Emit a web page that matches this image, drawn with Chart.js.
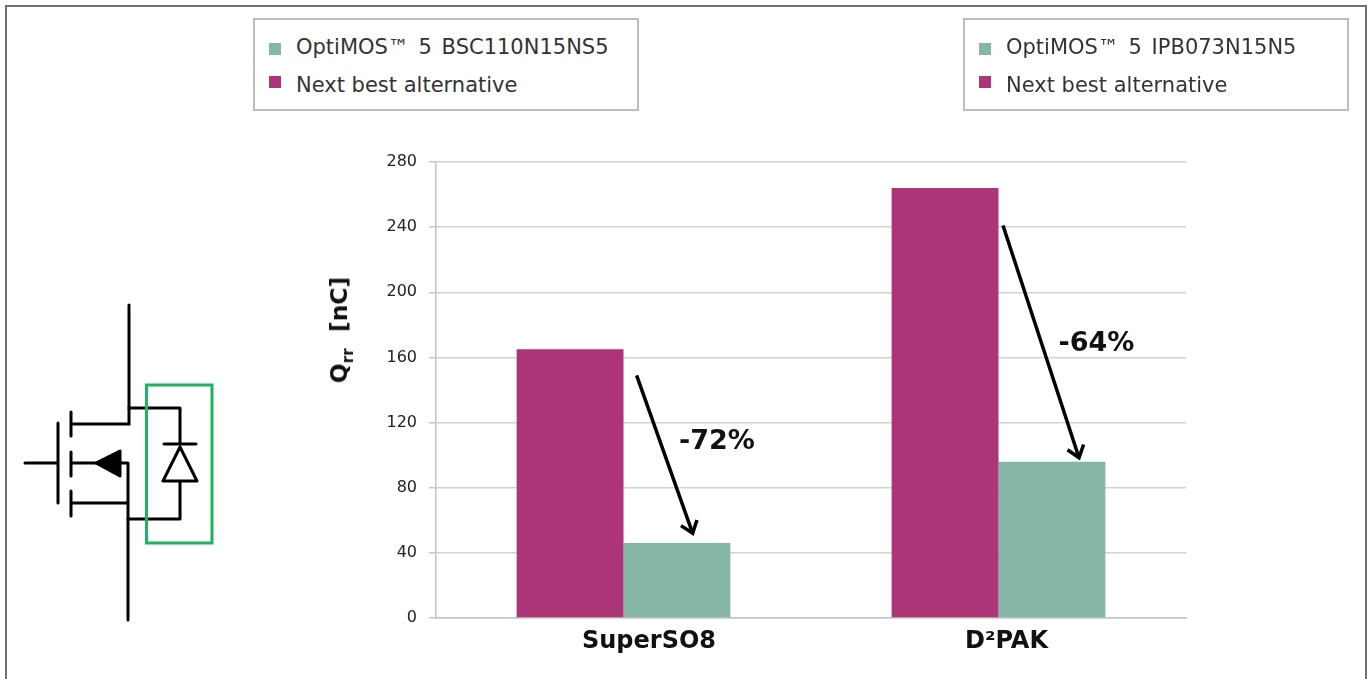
<!DOCTYPE html>
<html>
<head>
<meta charset="utf-8">
<title>Qrr comparison</title>
<script src="https://cdn.jsdelivr.net/npm/chart.js@4"></script>
<style>
  html, body { margin: 0; padding: 0; background: #fff; overflow: hidden; }
  #wrap { position: relative; width: 1370px; height: 679px; font-family: "DejaVu Sans", Verdana, sans-serif; filter: blur(0.4px); }
  #chart { position: absolute; left: 0; top: 0; }
  #frame { position: absolute; left: 5px; top: 5px; width: 1362px; height: 680px; border: 2px solid #707070; box-sizing: border-box; }
  #schematic { position: absolute; left: 0; top: 0; }
  .legend-box { position: absolute; top: 18px; width: 386px; height: 93px; border: 2px solid #bdbdbd; box-sizing: border-box; background: #fff; color: #333; font-size: 21px; }
  .legend-row { position: absolute; left: 14px; height: 24px; line-height: 24px; white-space: nowrap; }
  .legend-row i { display: inline-block; width: 12px; height: 12px; margin-right: 15px; position: relative; }
  .row-a { top: 15px; word-spacing: 3px; }
  .row-b { top: 53px; }
  .row-a i { vertical-align: -1px; }
  .row-b i { vertical-align: 3px; top: -1.5px; }
  #ytitle { position: absolute; left: 339px; top: 330px; transform: translate(-50%, -50%) rotate(-90deg); font-size: 23.5px; font-weight: bold; color: #111; white-space: pre; }
  #ytitle sub { font-size: 15px; line-height: 0; }
</style>
</head>
<body>
<div id="wrap">
  <canvas id="chart" width="1370" height="679"></canvas>
  <div id="frame"></div>
  <div class="legend-box" id="legend-left" style="left:253px"></div>
  <div class="legend-box" id="legend-right" style="left:963px"></div>
  <div id="ytitle">Q<sub>rr</sub>  [nC]</div>
  <svg id="schematic" width="260" height="679" fill="none" stroke="#000" stroke-width="3" stroke-linecap="round">
    <path d="M129 305V424H72M71 412V436M71 452V476M71 491V516M58 423V503M25 463H58M71 463H96M120 463H128M128 463V620M72 503H128"/>
    <path d="M96 463L120 451V476Z" fill="#000" stroke-linejoin="round"/>
    <path d="M129 408H180V444M164 444H196M180 447L163 481H197ZM180 481V519H128" stroke-linejoin="round"/>
    <rect x="146.5" y="385" width="65.5" height="158" stroke="#1db45e" stroke-linecap="butt"/>
  </svg>
</div>
<script>
  var CATEGORIES = ['SuperSO8', 'D²PAK'];
  var NEXT_BEST = [165, 264];
  var OPTIMOS = [46, 96];
  var Y_TICKS = [0, 40, 80, 120, 160, 200, 240, 280];
  var DROP_LABELS = ['-72%', '-64%'];
  var LEGEND_LEFT = 'OptiMOS™ 5 BSC110N15NS5';
  var LEGEND_RIGHT = 'OptiMOS™ 5 IPB073N15N5';
  var LEGEND_OTHER = 'Next best alternative';

  var MAGENTA = '#ab3576';
  var TEAL = '#86b6a6';

  function fillLegend(id, label) {
    document.getElementById(id).innerHTML =
      '<div class="legend-row row-a"><i style="background:' + TEAL + '"></i>' + label + '</div>' +
      '<div class="legend-row row-b"><i style="background:' + MAGENTA + '"></i>' + LEGEND_OTHER + '</div>';
  }
  fillLegend('legend-left', LEGEND_LEFT);
  fillLegend('legend-right', LEGEND_RIGHT);

  /* arrows between the two bars, x is category index + offset, y in nC */
  var dropArrows = [
    { from: [0.035, 149], to: [0.1845, 52], text: [0.249, 108] },
    { from: [1.012, 241], to: [1.2147, 98.4], text: [1.261, 168.5] }
  ];
  /* category names sit off-centre in the original, so they are placed here */
  var categoryOffsets = [25.5, 8];

  var annotationPlugin = {
    id: 'annotations',
    afterDatasetsDraw: function (chart) {
      var ctx = chart.ctx, xs = chart.scales.x, ys = chart.scales.y;
      ctx.save();
      ctx.textAlign = 'center';
      ctx.textBaseline = 'middle';
      ctx.fillStyle = '#111';
      ctx.font = 'bold 24px "DejaVu Sans"';
      CATEGORIES.forEach(function (name, i) {
        ctx.fillText(name, xs.getPixelForValue(i) + categoryOffsets[i], chart.chartArea.bottom + 24);
      });
      dropArrows.forEach(function (a, i) {
        var x1 = xs.getPixelForValue(a.from[0]), y1 = ys.getPixelForValue(a.from[1]);
        var x2 = xs.getPixelForValue(a.to[0]), y2 = ys.getPixelForValue(a.to[1]);
        var ang = Math.atan2(y2 - y1, x2 - x1);
        ctx.strokeStyle = '#000';
        ctx.lineWidth = 3.5;
        ctx.beginPath();
        ctx.moveTo(x1, y1);
        ctx.lineTo(x2, y2);
        ctx.moveTo(x2 - 14 * Math.cos(ang - 0.65), y2 - 14 * Math.sin(ang - 0.65));
        ctx.lineTo(x2, y2);
        ctx.lineTo(x2 - 14 * Math.cos(ang + 0.65), y2 - 14 * Math.sin(ang + 0.65));
        ctx.stroke();
        ctx.font = 'bold 27px "DejaVu Sans"';
        ctx.fillText(DROP_LABELS[i], xs.getPixelForValue(a.text[0]), ys.getPixelForValue(a.text[1]));
      });
      ctx.restore();
    }
  };

  new Chart(document.getElementById('chart'), {
    type: 'bar',
    data: {
      labels: CATEGORIES,
      datasets: [
        { label: LEGEND_OTHER, data: NEXT_BEST, backgroundColor: MAGENTA },
        { label: 'OptiMOS™ 5', data: OPTIMOS, backgroundColor: TEAL }
      ]
    },
    options: {
      responsive: false,
      animation: false,
      layout: { padding: { left: 376, right: 184, top: 162, bottom: 0 } },
      datasets: { bar: { categoryPercentage: 0.57, barPercentage: 1 } },
      plugins: { legend: { display: false }, tooltip: { enabled: false } },
      scales: {
        x: {
          afterFit: function (s) { s.height = 61; },
          grid: { display: false },
          border: { color: '#c4c4c4', width: 1.5 },
          ticks: { display: false }
        },
        y: {
          min: 0,
          max: 280,
          afterFit: function (s) { s.width = 60; },
          afterBuildTicks: function (s) { s.ticks = Y_TICKS.map(function (v) { return { value: v }; }); },
          grid: { color: '#d2d2d2', lineWidth: 1.5, tickLength: 7, tickColor: '#c4c4c4' },
          border: { color: '#c4c4c4', width: 1.5 },
          ticks: { color: '#222', font: { family: 'DejaVu Sans', size: 16 }, padding: 12 }
        }
      }
    },
    plugins: [annotationPlugin]
  });
</script>
</body>
</html>
